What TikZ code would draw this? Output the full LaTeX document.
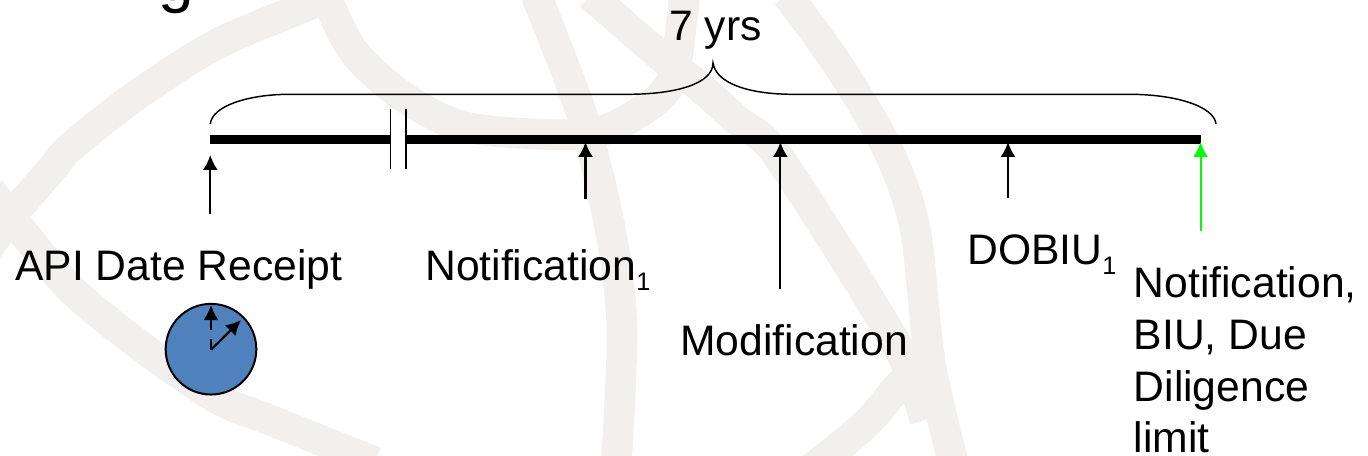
\documentclass[tikz,border=0pt]{standalone}
\usepackage{fontspec}
\setmainfont{Liberation Sans}
\usetikzlibrary{arrows.meta}
\definecolor{wm}{RGB}{241,240,239}
\definecolor{clockblue}{RGB}{79,129,189}
\definecolor{limitgreen}{RGB}{0,255,0}
\newcommand{\subone}{\raisebox{-7.5pt}{\fontsize{19}{23}\selectfont 1}}
\tikzset{
  px/.style={x=0.75pt,y=-0.75pt},
  wmark/.style={draw=wm,line width=23pt,line cap=butt},
  label/.style={inner sep=0pt,anchor=base west,font=\fontsize{32}{38}\selectfont,text=black},
  tick/.style={line width=1.6pt,-{Latex[length=11.25pt,width=11.25pt]}},
  brace/.style={line width=1.1pt},
  timeline/.style={line width=6.75pt},
  breakmark/.style={line width=1.2pt}
}
\begin{document}
\begin{tikzpicture}[px]
\useasboundingbox (0,0) rectangle (1368,456);
\fill[white] (0,0) rectangle (1368,456);
\begin{scope}
\clip (0,0) rectangle (1368,456);
% watermark bands
\draw[wmark] plot[smooth] coordinates {(-12,248) (15,212) (51,170) (72,146) (137,95) (215,45) (297,10) (340,-8)};
\draw[wmark] plot[smooth] coordinates {(-10,190) (35,247) (75,293) (142,347) (216,398) (270,420) (375,462)};
\draw[wmark] plot[smooth] coordinates {(325,-5) (354,52) (405,98) (470,128) (585,134) (640,112) (672,80) (683,10) (685,-10)};
\draw[wmark] plot[smooth] coordinates {(536,-5) (582,115) (610,228) (622,328) (616,470)};
\draw[wmark] plot[smooth] coordinates {(590,-5) (662,57) (700,87) (737,120) (771,147) (825,228) (870,300) (905,361) (925,420)};
\draw[wmark] plot[smooth] coordinates {(787,-5) (838,65) (887,148) (915,228) (930,361) (955,470)};
\draw[wmark] plot[smooth] coordinates {(915,370) (895,390) (865,425) (810,470)};
% clipped title fragment
\node[inner sep=0pt,anchor=base west,font=\fontsize{48}{56}\selectfont] (title) at (158,1) {g};
\end{scope}
% timeline
\coordinate (tlL) at (210.3,139.5);
\coordinate (tlR) at (1200.6,139.5);
\draw[timeline] (tlL) -- (tlR);
% break mark
\fill[white] (390.5,130) rectangle (405.8,150);
\coordinate (b1t) at (390.5,109); \coordinate (b1b) at (390.5,169);
\coordinate (b2t) at (405.8,109); \coordinate (b2b) at (405.8,169);
\draw[breakmark] (b1t) -- (b1b);
\draw[breakmark] (b2t) -- (b2b);
% brace
\coordinate (brL) at (210.3,124);
\coordinate (brT) at (713,63);
\coordinate (brR) at (1216,124);
\draw[brace] (brL) .. controls (212,106) and (248,94.3) .. (290,94.3) -- (628,94.3)
  .. controls (675,94.3) and (713,84) .. (brT)
  .. controls (716,83) and (748,94.3) .. (793,94.3) -- (1129,94.3)
  .. controls (1175,94.3) and (1214,106) .. (brR);
% labels
\node[label] (seven) at (669,40.5) {7 yrs};
\node[label] (api) at (15,280.5) {API Date Receipt};
\node[label] (n1) at (425,280.5) {Notification\subone};
\node[label] (mod) at (680,355) {Modification};
\node[label] (dob) at (967,264.5) {DOBIU\subone};
\node[label] (n2) at (1133.5,297) {Notification,};
\node[label] (n3) at (1133.5,349.5) {BIU, Due};
\node[label] (n4) at (1133.5,401) {Diligence};
\node[label] (n5) at (1133.5,452) {limit};
% arrows
\coordinate (a1) at (210.3,214); \coordinate (a1e) at (210.3,155);
\coordinate (a2) at (585.5,199); \coordinate (a2e) at (585.5,142);
\coordinate (a3) at (780.4,289); \coordinate (a3e) at (780.4,142);
\coordinate (a4) at (1008,198); \coordinate (a4e) at (1008,142);
\coordinate (a5) at (1200.6,231); \coordinate (a5e) at (1200.6,142);
\draw[tick] (a1) -- (a1e);
\draw[tick] (a2) -- (a2e);
\draw[tick] (a3) -- (a3e);
\draw[tick] (a4) -- (a4e);
\draw[tick,draw=limitgreen,fill=limitgreen] (a5) -- (a5e);
% clock
\node[circle,draw=black,fill=clockblue,line width=1.5pt,minimum width=68pt,inner sep=0pt] (clock) at (211,349.2) {};
\coordinate (hand) at (211,349.7);
\coordinate (handm) at (211,339);
\coordinate (h1s) at (211,330);
\coordinate (h1e) at (211,305);
\coordinate (h2e) at (241,320);
\draw[line width=1.6pt] (hand) -- (handm);
\draw[tick] (h1s) -- (h1e);
\draw[tick] (hand) -- (h2e);
\end{tikzpicture}
\end{document}
